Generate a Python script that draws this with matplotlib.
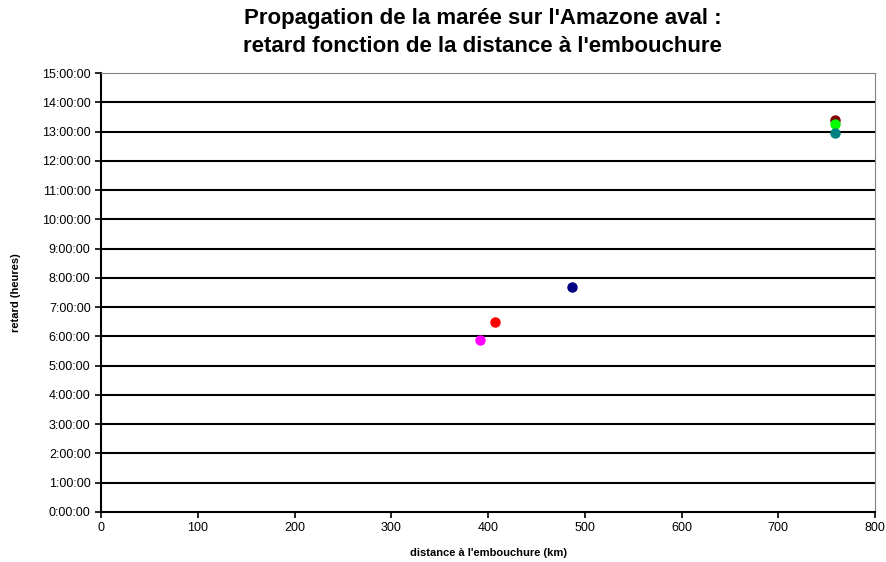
import numpy as np
import matplotlib
matplotlib.use("Agg")
import matplotlib.pyplot as plt
from matplotlib.ticker import FuncFormatter, MultipleLocator

plt.rcParams['font.family'] = ['Liberation Sans', 'DejaVu Sans']

# distance to the mouth (km) and tide delay (h:mm)
distance_km = [392, 407, 487, 759, 759, 759]
delay = ["5:53", "6:30", "7:41", "13:23", "13:15", "12:58"]
colors = ["#ff00ff", "#ff0000", "#000080", "#800000", "#00ff00", "#008080"]


def to_hours(s):
    h, m = s.split(":")
    return int(h) + int(m) / 60.0


delay_h = [to_hours(s) for s in delay]


def fmt_hms(v, pos):
    total = int(round(v * 3600))
    return "%d:%02d:%02d" % (total // 3600, (total % 3600) // 60, total % 60)


fig = plt.figure(figsize=(8.87, 5.62), dpi=100)
ax = fig.add_axes([0.1139, 0.089, 0.8726, 0.781])

for yv in range(1, 15):
    ax.axhline(yv, color='black', lw=1.5, zorder=1)

for x, y, c in zip(distance_km, delay_h, colors):
    ax.plot(x, y, 'o', color=c, ms=6.5, mec=c, zorder=3)

ax.set_xlim(0, 800)
ax.set_ylim(0, 15)
ax.xaxis.set_major_locator(MultipleLocator(100))
ax.yaxis.set_major_locator(MultipleLocator(1))
ax.yaxis.set_major_formatter(FuncFormatter(fmt_hms))

ax.spines['top'].set_color('#808080')
ax.spines['right'].set_color('#808080')
ax.spines['left'].set_linewidth(1.5)
ax.spines['bottom'].set_linewidth(1.5)
ax.tick_params(axis='both', labelsize=9, length=4, width=1.2, direction='out')

ax.set_xlabel("distance à l'embouchure (km)", fontsize=8, fontweight='bold', labelpad=10)
ax.set_ylabel("retard (heures)", fontsize=8, fontweight='bold', labelpad=15)
fig.suptitle("Propagation de la marée sur l'Amazone aval :\nretard fonction de la distance à l'embouchure",
             fontsize=16, fontweight='bold', x=0.544, y=0.985, linespacing=1.4)

fig.savefig("out.png", dpi=100)
